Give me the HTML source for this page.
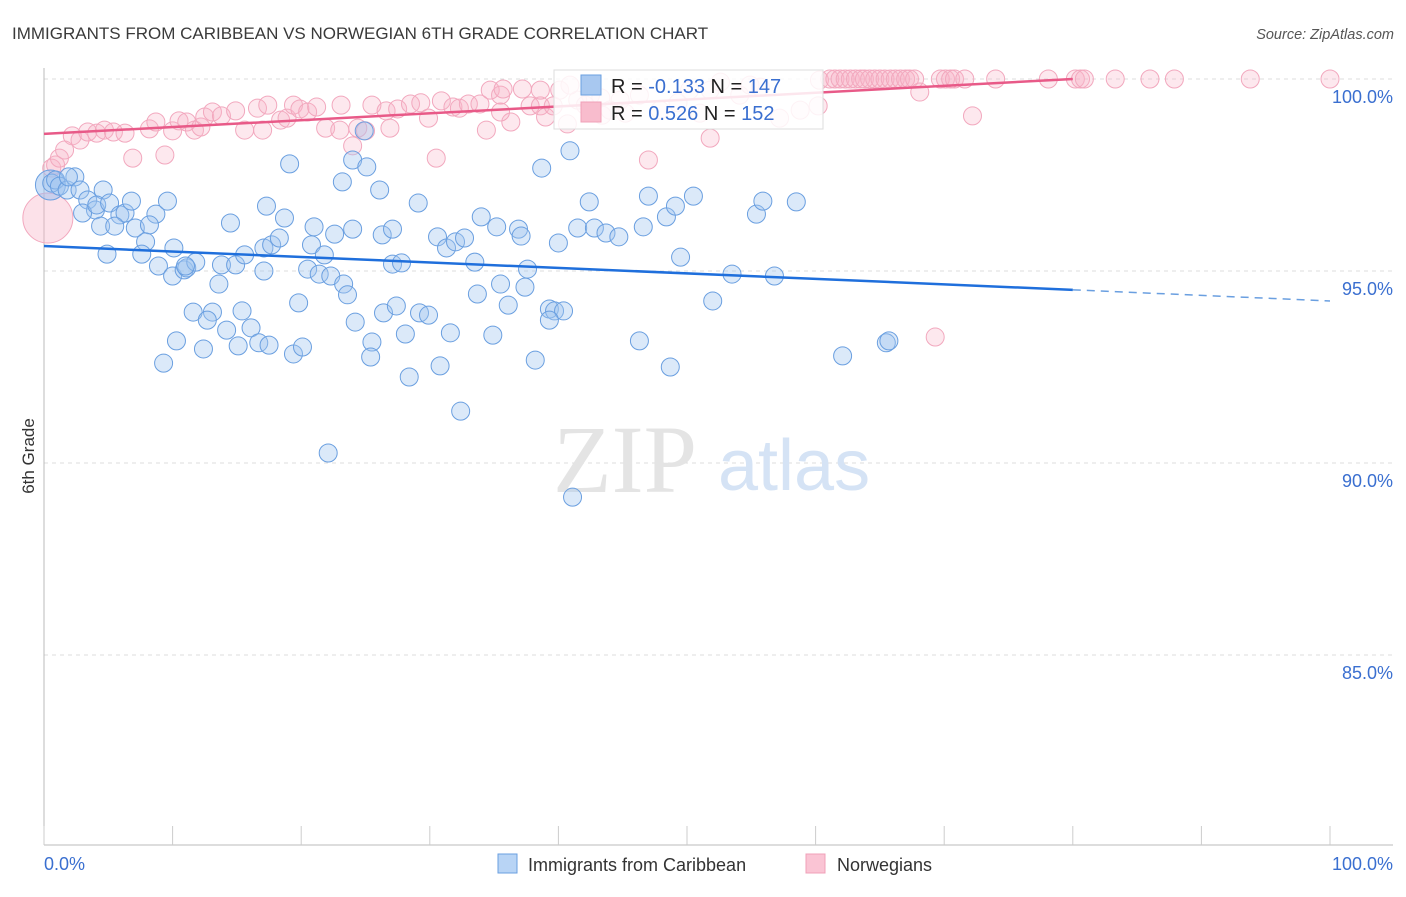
<!DOCTYPE html>
<html><head><meta charset="utf-8"><style>
body{margin:0;background:#fff;font-family:"Liberation Sans",sans-serif}
svg text{font-family:"Liberation Sans",sans-serif}
</style></head><body>
<svg id="chart" width="1406" height="892" viewBox="0 0 1406 892" xmlns="http://www.w3.org/2000/svg">
<text x="12" y="39" font-size="17" fill="#3a3a3a">IMMIGRANTS FROM CARIBBEAN VS NORWEGIAN 6TH GRADE CORRELATION CHART</text>
<text x="1394" y="39" font-size="14.5" fill="#555" text-anchor="end" font-style="italic">Source: ZipAtlas.com</text>
<g id="grid"></g>
<text x="553" y="492" font-size="96" fill="#e4e4e4" style="font-family:'Liberation Serif',serif">ZIP</text>
<text x="718" y="490" font-size="72" fill="#d5e3f5">atlas</text>
<g id="axes"></g>
<g id="pinkPts"></g>
<g id="bluePts"></g>
<g id="lines"></g>
<text transform="translate(34,456) rotate(-90)" font-size="17" fill="#333" text-anchor="middle">6th Grade</text>
<g>
<rect x="554" y="70" width="269" height="59" fill="#fff" fill-opacity="0.85" stroke="#ddd"/>
<rect x="581" y="75" width="20" height="20" fill="#a8c8f0" stroke="#6a9fe0"/>
<rect x="581" y="102" width="20" height="20" fill="#f8bccd" stroke="#f0a0b8"/>
<text x="611" y="93" font-size="20" fill="#222">R = <tspan fill="#3a6fd0">-0.133</tspan>   N = <tspan fill="#3a6fd0">147</tspan></text>
<text x="611" y="120" font-size="20" fill="#222">R =  <tspan fill="#3a6fd0">0.526</tspan>   N = <tspan fill="#3a6fd0">152</tspan></text>
</g>
<g>
<rect x="498" y="854" width="19" height="19" fill="#b8d4f5" stroke="#6a9fe0"/>
<text x="528" y="871" font-size="18" fill="#333">Immigrants from Caribbean</text>
<rect x="806" y="854" width="19" height="19" fill="#fac4d4" stroke="#f0a0b8"/>
<text x="837" y="871" font-size="18" fill="#333">Norwegians</text>
</g>
</svg>
<script>
const yTicks=[100,95,90,85];
const yTickLabels=["100.0%","95.0%","90.0%","85.0%"];
const xTickLabels=["0.0%","100.0%"];
const blueX=[0.6,0.9,1.2,1.8,2.4,1.9,2.8,3.4,4.0,4.6,3.0,4.1,5.1,5.9,6.3,6.8,8.7,9.6,4.4,5.5,7.1,8.2,7.9,10.1,4.9,7.6,8.9,10.0,10.9,11.1,11.8,11.0,13.8,14.9,13.6,14.5,17.3,17.1,15.6,17.7,18.3,18.7,19.1,17.1,11.6,13.1,12.7,14.2,15.4,16.1,10.3,12.4,9.3,15.1,16.7,17.5,19.4,20.1,19.8,20.8,21.0,20.5,21.4,22.3,23.3,23.6,22.6,24.0,23.2,24.0,24.9,25.1,26.1,26.3,27.1,24.2,25.5,25.4,26.4,27.4,28.1,28.4,29.2,29.9,29.1,27.1,27.8,30.6,31.3,32.0,32.7,30.8,31.6,32.4,33.5,33.7,34.0,34.9,35.2,35.5,36.1,36.9,37.1,37.4,37.6,38.2,38.7,39.3,39.7,40.4,39.3,40.0,40.9,41.1,41.5,42.4,42.8,43.7,44.7,46.6,47.0,46.3,48.4,49.1,49.5,50.5,48.7,52.0,53.5,55.4,55.9,56.8,58.5,62.1,65.5,65.7,22.1,21.8];
const blueY=[97.29,97.37,97.21,97.11,97.45,97.45,97.11,96.85,96.59,97.11,96.51,96.72,96.77,96.46,96.51,96.82,96.48,96.82,96.17,96.17,96.12,96.20,95.76,95.60,95.44,95.44,95.13,94.87,95.03,95.08,95.23,95.13,95.16,95.16,94.66,96.25,96.69,95.60,95.42,95.68,95.86,96.38,97.79,95.00,93.93,93.93,93.72,93.46,93.96,93.52,93.18,92.97,92.60,93.05,93.13,93.07,92.84,93.02,94.17,95.68,96.15,95.05,94.92,94.87,94.66,94.38,95.96,96.09,97.32,97.89,98.65,97.71,97.11,95.94,96.09,93.67,93.15,92.76,93.91,94.09,93.36,92.24,93.91,93.85,96.77,95.18,95.21,95.89,95.60,95.76,95.86,92.53,93.39,91.35,95.23,94.40,96.41,93.33,96.15,94.66,94.11,96.09,95.91,94.58,95.05,92.68,97.68,94.01,93.96,93.96,93.72,95.73,98.13,89.11,96.12,96.80,96.12,95.99,95.89,96.15,96.95,93.18,96.41,96.69,95.36,96.95,92.50,94.22,94.92,96.48,96.82,94.87,96.80,92.79,93.13,93.18,90.26,95.42];
const pinkX=[0.6,0.9,1.2,1.6,2.2,2.8,3.4,4.1,4.7,5.4,6.3,6.9,8.2,8.7,9.4,10.0,10.5,11.1,11.7,12.2,12.5,13.1,13.8,14.9,15.6,16.6,17.4,17.0,18.4,18.9,19.4,19.9,20.5,21.2,21.9,23.0,24.0,23.1,24.4,25.0,25.5,26.6,26.9,27.5,28.5,29.3,29.9,30.5,30.9,31.8,32.3,33.0,33.9,34.4,34.7,35.5,35.7,36.3,37.2,37.8,38.6,39.0,39.6,40.7,41.5,42.5,43.4,44.8,47.0,47.9,49.3,51.0,51.8,51.8,54.1,55.7,58.8,60.2,60.3,61.1,61.5,61.9,62.3,62.7,63.1,63.5,63.8,64.2,64.6,65.0,65.4,65.8,66.2,66.6,67.0,67.3,67.7,68.1,69.7,70.1,70.5,70.8,71.6,74.0,78.1,80.2,80.6,80.9,83.3,86.0,87.9,93.8,100.0,72.2,69.3,57.2,52.6,54.9,46.3,50.2,43.3,35.5,40.1,40.9,38.6,42.1,44.0,45.2];
const pinkY=[97.68,97.76,97.94,98.15,98.52,98.41,98.62,98.59,98.67,98.62,98.59,97.94,98.70,98.88,98.02,98.65,98.91,98.88,98.67,98.75,99.01,99.14,99.04,99.17,98.67,99.24,99.32,98.67,98.93,98.98,99.32,99.22,99.14,99.27,98.72,98.67,98.26,99.32,98.72,98.65,99.32,99.17,98.72,99.22,99.35,99.38,98.98,97.94,99.43,99.27,99.24,99.35,99.35,98.67,99.71,99.58,99.74,98.88,99.74,99.30,99.30,99.01,99.30,98.83,99.45,99.58,99.06,99.45,97.89,99.19,99.38,99.11,98.46,99.71,99.58,99.79,99.19,99.30,99.97,100,100,100,100,100,100,100,100,100,100,100,100,100,100,100,100,100,100,99.66,100,100,100,100,100,100,100,100,100,100,100,100,100,100,100,99.04,93.28,98.98,99.92,99.84,99.58,99.71,99.51,99.14,99.71,99.84,99.71,99.32,99.19,99.11];
const bigBlue=[0.5,97.24];
const bigPink=[0.3,96.38];
const blueTrend=[0,95.65,80,94.51,100,94.22];
const pinkTrend=[0,98.57,80,100];

const X0=44,X1=1330,YTOP=79,PXPER=38.4;
const sx=v=>X0+(X1-X0)*v/100;
const sy=v=>YTOP+(100-v)*PXPER;
const NS="http://www.w3.org/2000/svg";
function mk(tag,attrs,parent){const e=document.createElementNS(NS,tag);for(const k in attrs)e.setAttribute(k,attrs[k]);parent.appendChild(e);return e;}
const grid=document.getElementById('grid'),axes=document.getElementById('axes');
yTicks.forEach((t,i)=>{
 const g=mk('line',{x1:44,x2:1393,y1:sy(t),y2:sy(t),stroke:'#dcdcdc','stroke-dasharray':'4,4'},grid);
 
 
 const l=mk('text',{x:1393,y:sy(t)+24,'font-size':18,fill:'#3a6fd0','text-anchor':'end'},axes);
 l.textContent=yTickLabels[i];
 
 
});
const ya=mk('line',{x1:44,x2:44,y1:68,y2:845,stroke:'#bbb'},axes);


const xa=mk('line',{x1:44,x2:1393,y1:845,y2:845,stroke:'#bbb'},axes);


for(let i=0;i<=10;i++){
 const t=mk('line',{x1:sx(i*10),x2:sx(i*10),y1:826,y2:845,stroke:'#ccc'},axes);
 
 
}
const xl0=mk('text',{x:44,y:870,'font-size':18,fill:'#3a6fd0'},axes);xl0.textContent=xTickLabels[0];


const xl1=mk('text',{x:1393,y:870,'font-size':18,fill:'#3a6fd0','text-anchor':'end'},axes);xl1.textContent=xTickLabels[1];



const pg=document.getElementById('pinkPts'),bg=document.getElementById('bluePts');
const bp=mk('circle',{cx:sx(bigPink[0]),cy:sy(bigPink[1]),r:25,fill:'rgba(248,180,200,0.4)',stroke:'#f2a8be'},pg);


pinkX.forEach((x,i)=>{
 const c=mk('circle',{cx:sx(x),cy:sy(pinkY[i]),r:9,fill:'rgba(248,180,200,0.3)',stroke:'#f2a8be','stroke-width':1},pg);
 
 
});
const bb=mk('circle',{cx:sx(bigBlue[0]),cy:sy(bigBlue[1]),r:15,fill:'rgba(150,190,240,0.5)',stroke:'#6a9fe0'},bg);


blueX.forEach((x,i)=>{
 const c=mk('circle',{cx:sx(x),cy:sy(blueY[i]),r:9,fill:'rgba(160,196,240,0.38)',stroke:'#6a9fe0','stroke-width':1},bg);
 
 
});
const lg=document.getElementById('lines');
const b1=mk('line',{x1:sx(blueTrend[0]),y1:sy(blueTrend[1]),x2:sx(blueTrend[2]),y2:sy(blueTrend[3]),stroke:'#1f6fdc','stroke-width':2.5},lg);


const b2=mk('line',{x1:sx(blueTrend[2]),y1:sy(blueTrend[3]),x2:sx(blueTrend[4]),y2:sy(blueTrend[5]),stroke:'#6a9fe0','stroke-width':1.5,'stroke-dasharray':'8,6'},lg);


const p1=mk('line',{x1:sx(pinkTrend[0]),y1:sy(pinkTrend[1]),x2:sx(pinkTrend[2]),y2:sy(pinkTrend[3]),stroke:'#e85a88','stroke-width':2.5},lg);


</script>
</body></html>
